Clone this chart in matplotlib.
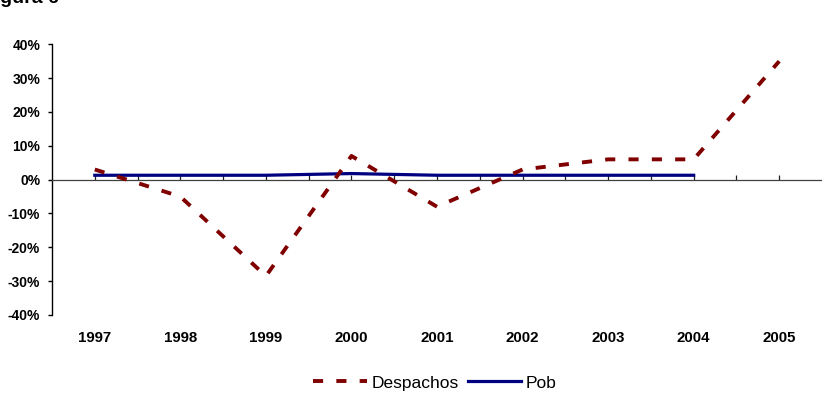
import matplotlib
matplotlib.use("Agg")
import matplotlib.pyplot as plt

plt.rcParams["font.family"] = ["Liberation Sans", "DejaVu Sans"]

# values (percent change)
years = ["1997", "1998", "1999", "2000", "2001", "2002", "2003", "2004", "2005"]
despachos = [3.0, -5.0, -28.5, 7.0, -8.0, 3.0, 6.0, 6.0, 35.0]
pob = [1.3, 1.3, 1.3, 1.8, 1.3, 1.3, 1.3, 1.3]
y_ticks = [-40, -30, -20, -10, 0, 10, 20, 30, 40]

fig = plt.figure(figsize=(8.22, 4.04), dpi=100)
ax = fig.add_axes([52 / 822, 1 - 315 / 404, 1 - 52 / 822, (315 - 44.3) / 404])

x = list(range(len(years)))
ax.plot(x, despachos, color="#800000", lw=2.8, dashes=(2.6, 3.4),
        solid_capstyle="butt", dash_capstyle="butt", label="Despachos", zorder=3)
ax.plot(x[:len(pob)], pob, color="#000080", lw=2.3, label="Pob", zorder=2)

ax.set_xlim(-0.5, 8.5)
ax.set_ylim(-40, 40)

# y axis
ax.set_yticks(y_ticks, labels=[f"{v}%" for v in y_ticks])
ax.tick_params(axis="y", direction="out", length=3, width=1, pad=5.5,
               labelsize=10)
for lab in ax.get_yticklabels():
    lab.set_fontweight("bold")
ax.spines["left"].set_linewidth(1)

# x axis line through zero with small upward ticks
ax.spines["bottom"].set_position(("data", 0))
ax.spines["bottom"].set_color("#404040")
ax.spines["bottom"].set_linewidth(0.9)
ax.spines["top"].set_visible(False)
ax.spines["right"].set_visible(False)
ax.set_xticks([i * 0.5 for i in range(17)])
ax.tick_params(axis="x", direction="in", length=3.5, width=0.9,
               labelbottom=False, color="#202020")

# year labels along the bottom of the plot
sec = ax.secondary_xaxis(location=0)
sec.set_xticks(x, labels=years)
sec.tick_params(length=0, pad=11.5, labelsize=10.8)
for lab in sec.get_xticklabels():
    lab.set_fontweight("bold")
sec.spines["bottom"].set_visible(False)

fig.legend(loc="center", bbox_to_anchor=(435 / 822, 1 - 383 / 404), ncol=2,
           frameon=False, fontsize=12.5, handlelength=3.1,
           handletextpad=0.25, columnspacing=0.5)

fig.text(-17 / 822, 1 - 3 / 404, "Figura 6", fontsize=14, fontweight="bold",
         va="baseline", ha="left")

fig.savefig("out.png", dpi=100)
